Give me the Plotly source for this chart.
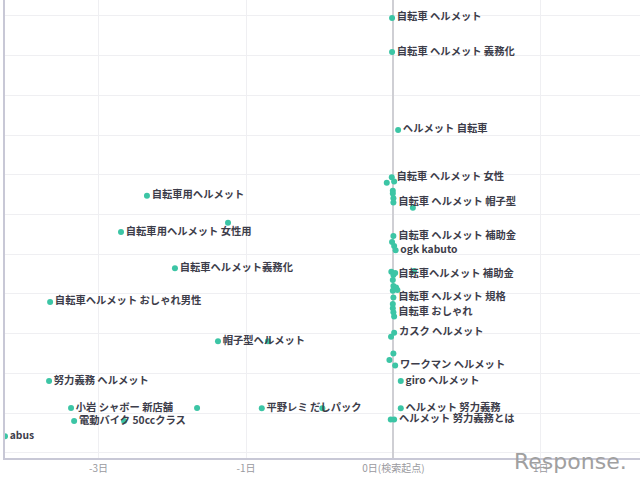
import plotly.graph_objects as go

# keyword labels ("" = unlabeled point)
labels = [
    "自転車 ヘルメット", "自転車 ヘルメット 義務化", "ヘルメット 自転車",
    "自転車用ヘルメット", "", "自転車用ヘルメット 女性用", "自転車ヘルメット義務化",
    "自転車ヘルメット おしゃれ男性", "帽子型ヘルメット", "", "努力義務 ヘルメット",
    "小岩 シャボー 新店舗", "", "平野レミ だしパック", "", "電動バイク 50ccクラス", "",
    "abus",
    "自転車 ヘルメット 女性", "", "", "", "", "", "自転車 ヘルメット 帽子型", "",
    "自転車 ヘルメット 補助金", "", "", "ogk kabuto",
    "", "自転車ヘルメット 補助金", "", "", "",
    "", "", "", "",
    "自転車 ヘルメット 規格", "", "", "自転車 おしゃれ", "",
    "カスク ヘルメット", "", "", "", "ワークマン ヘルメット",
    "giro ヘルメット", "ヘルメット 努力義務", "ヘルメット 努力義務とは", "",
]
# x: days relative to search start (axis units), y: vertical score
x_vals = [
    -0.009, -0.009, 0.032,
    -1.672, -1.122, -1.848, -1.482,
    -2.329, -1.190, -0.851, -2.336,
    -2.187, -1.332, -0.893, -0.482, -2.166, -1.827,
    -2.635,
    -0.011, 0.005, -0.045, -0.004, -0.004, 0.000, 0.000, 0.132,
    0.000, -0.009, 0.005, 0.015,
    -0.014, 0.000, 0.012, -0.004, 0.140,
    0.000, 0.018, 0.027, -0.004,
    0.000, -0.004, -0.004, 0.000, 0.005,
    0.005, -0.016, 0.000, -0.027, 0.012,
    0.050, 0.050, 0.005, -0.018,
]
y_vals = [
    10.95, 10.09, 8.13,
    6.47, 5.79, 5.56, 4.65,
    3.80, 2.81, 2.81, 1.81,
    1.13, 1.13, 1.12, 1.12, 0.80, 0.80,
    0.42,
    6.94, 6.83, 6.80, 6.60, 6.53, 6.41, 6.30, 6.17,
    5.46, 5.31, 5.21, 5.10,
    4.56, 4.48, 4.53, 4.35, 4.58,
    4.20, 4.16, 4.10, 4.08,
    3.91, 3.75, 3.64, 3.54, 3.43,
    3.02, 2.92, 2.50, 2.34, 2.20,
    1.81, 1.12, 0.84, 0.84,
]
tick_vals = [-2, -1, 0, 1]
tick_text = ["-3日", "-1日", "0日(検索起点)", "1日"]

fig = go.Figure()
fig.add_trace(go.Scatter(
    x=x_vals, y=y_vals, text=labels,
    mode="markers+text", textposition="middle right",
    marker=dict(color="#3cc5a5", size=6),
    textfont=dict(family="Noto Sans CJK JP", size=10.3, color="#3d3d4a", weight="bold"),
    hoverinfo="skip", showlegend=False,
))

fig.update_layout(
    width=640, height=482,
    margin=dict(l=5, r=0, t=0, b=24, autoexpand=False),
    paper_bgcolor="white", plot_bgcolor="white",
    font=dict(family="Noto Sans CJK JP"),
    xaxis=dict(
        range=[-2.635, 1.673], tickvals=tick_vals, ticktext=tick_text,
        showgrid=True, gridcolor="#efeff2", gridwidth=1,
        zeroline=True, zerolinecolor="#cfcfd4", zerolinewidth=1.5,
        showline=True, linecolor="#c8c8d6", linewidth=2,
        tickfont=dict(size=10, color="#9a9aa0"), ticks="", automargin=False,
    ),
    yaxis=dict(
        range=[-0.13, 11.4], dtick=1, tick0=0,
        showgrid=True, gridcolor="#efeff2", gridwidth=1,
        zeroline=False, showticklabels=False,
        showline=True, linecolor="#c8c8d6", linewidth=2, ticks="", automargin=False,
    ),
)

fig.add_annotation(
    x=(570 - 5) / 635, y=1 - 461 / 458, xref="paper", yref="paper",
    xanchor="center", yanchor="middle", text="Response.",
    showarrow=False,
    font=dict(family="DejaVu Sans", size=22, color="#a0a0a0"),
)

fig.write_html("out.html", config={"displayModeBar": False},
               post_script="document.body.style.margin='0px';")
